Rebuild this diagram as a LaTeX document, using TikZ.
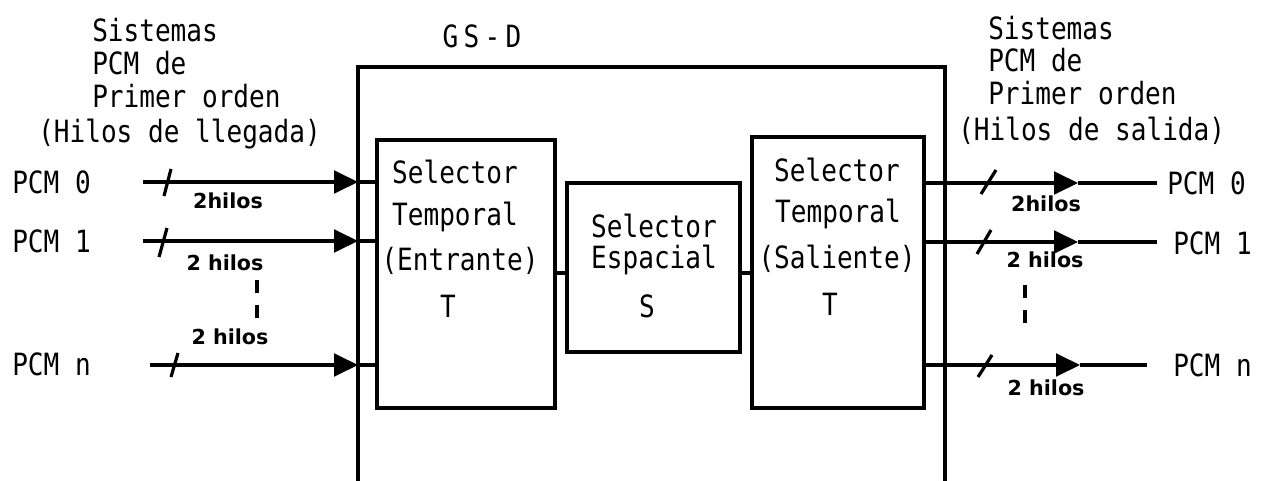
\documentclass[tikz,border=0pt]{standalone}
\usepackage{fontspec}
\newfontfamily\tw{DejaVu Sans Mono}[FakeStretch=0.85]
\newfontfamily\hw{DejaVu Sans}
\usetikzlibrary{arrows.meta}
\begin{document}
\begin{tikzpicture}[x=0.75pt,y=-0.75pt,
  conn/.style={line width=2.5pt},
  frame/.style={line width=2.9pt},
  box/.style={draw,rectangle,line width=2.9pt,inner sep=0pt},
  lbl/.style={font=\tw\fontsize{23}{27}\selectfont,inner sep=0pt,anchor=base},
  lblw/.style={lbl,anchor=base west},
  hil/.style={font=\hw\bfseries\fontsize{15.5}{18}\selectfont,inner sep=0pt},
  tip/.style={-{Triangle[length=18pt,width=17pt]}},
  tick/.style={line width=2.4pt},
  dots/.style={line width=2.6pt,dash pattern=on 9.75pt off 9pt}]
\useasboundingbox (0,0) rectangle (1267,481);
% outer frame GS-D (open at the bottom)
\coordinate (gsTL) at (358,67);
\coordinate (gsTR) at (945,67);
\coordinate (gsBL) at (358,481);
\coordinate (gsBR) at (945,481);
\draw[frame] (gsBL) -- (gsTL) -- (gsTR) -- (gsBR);
\node[lbl] (gsd) at (482,48) {G\kern4pt S\kern4pt -\kern4pt D};
% boxes
\node[box,minimum width=133.5pt,minimum height=201pt] (tl) at (466,274) {};
\node[box,minimum width=129.75pt,minimum height=126.75pt] (sp) at (653.5,267.5) {};
\node[box,minimum width=129pt,minimum height=203.25pt] (tr) at (838,272.5) {};
\coordinate (mid) at (600,273);
\draw[conn] (tl.east |- mid) -- (sp.west |- mid);
\draw[conn] (sp.east |- mid) -- (tr.west |- mid);
% box texts
\node[lbl] (tl1) at (455,184) {Selector};
\node[lbl] (tl2) at (455,225) {Temporal};
\node[lbl] (tl3) at (460,270) {(Entrante)};
\node[lbl] (tl4) at (448,317) {T};
\node[lbl] (sp1) at (654,238) {Selector};
\node[lbl] (sp2) at (654,268) {Espacial};
\node[lbl] (sp3) at (647,317) {S};
\node[lbl] (tr1) at (837,182) {Selector};
\node[lbl] (tr2) at (838,222) {Temporal};
\node[lbl] (tr3) at (837,268) {(Saliente)};
\node[lbl] (tr4) at (830,315) {T};
% left titles
\node[lblw] (lt1) at (92,42) {Sistemas};
\node[lblw] (lt2) at (92,75) {PCM de};
\node[lblw] (lt3) at (92,108) {Primer orden};
\node[lblw] (lt4) at (38,143) {(Hilos de llegada)};
% right titles
\node[lblw] (rt1) at (988,40) {Sistemas};
\node[lblw] (rt2) at (988,72) {PCM de};
\node[lblw] (rt3) at (988,105) {Primer orden};
\node[lblw] (rt4) at (958,141) {(Hilos de salida)};
% left inputs
\node[lblw] (in0) at (12,194) {PCM 0};
\node[lblw] (in1) at (12,252) {PCM 1};
\node[lblw] (inn) at (12,375) {PCM n};
\coordinate (a0) at (143,182);
\coordinate (a1) at (143,241);
\coordinate (an) at (150,365);
\foreach \c in {a0,a1,an}{
  \draw[conn,tip] (\c) -- (gsTL |- \c);
  \draw[conn] (gsTL |- \c) -- (tl.west |- \c);
}
\draw[tick] (164,196) -- (171,169);
\draw[tick] (159,257) -- (167,228);
\draw[tick] (171,377) -- (178,353);
\node[hil] (h0) at (228,201) {2hilos};
\node[hil] (h1) at (225,263) {2 hilos};
\node[hil] (hn) at (230,337) {2 hilos};
\coordinate (dl1) at (257,280);
\coordinate (dl2) at (257,322);
\draw[dots] (dl1) -- (dl2);
% right outputs
\node[lblw] (out0) at (1167,195) {PCM 0};
\node[lblw] (out1) at (1173,254) {PCM 1};
\node[lblw] (outn) at (1173,376) {PCM n};
\coordinate (m0) at (1078,183);
\coordinate (m1) at (1078,242);
\coordinate (mn) at (1080,365);
\coordinate (e0) at (1157,183);
\coordinate (e1) at (1157,242);
\coordinate (en) at (1147,365);
\draw[conn,tip] (tr.east |- m0) -- (m0);
\draw[conn] (m0) -- (e0);
\draw[conn,tip] (tr.east |- m1) -- (m1);
\draw[conn] (m1) -- (e1);
\draw[conn,tip] (tr.east |- mn) -- (mn);
\draw[conn] (mn) -- (en);
\draw[tick] (981,194) -- (996,170);
\draw[tick] (977,254) -- (991,230);
\draw[tick] (978,377) -- (992,355);
\node[hil] (g0) at (1046,204) {2hilos};
\node[hil] (g1) at (1045,260) {2 hilos};
\node[hil] (gn) at (1046,388) {2 hilos};
\coordinate (dr1) at (1025,285);
\coordinate (dr2) at (1025,325);
\draw[dots] (dr1) -- (dr2);
\end{tikzpicture}
\end{document}
